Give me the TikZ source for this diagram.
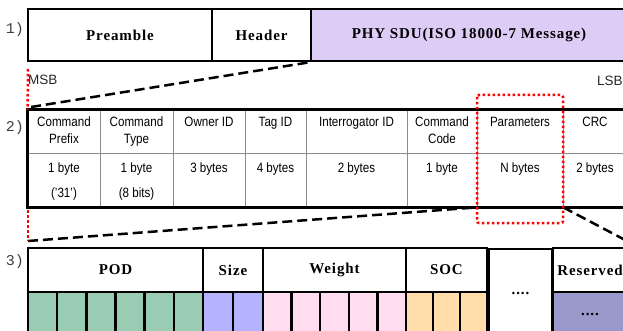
\documentclass[tikz,border=0pt]{standalone}
\usepackage{fontspec}
\setmainfont{Liberation Serif}
\newfontfamily\fldfont{Liberation Serif}[LetterSpace=6]
\newfontfamily\tblfont{Liberation Sans}[FakeStretch=0.86]
\newfontfamily\msbfont{Liberation Sans}
\newfontfamily\numfont{Liberation Mono}
\definecolor{phyfill}{HTML}{DCCCF6}
\definecolor{podfill}{HTML}{99CCB3}
\definecolor{sizefill}{HTML}{B3B3FF}
\definecolor{wgtfill}{HTML}{FFDDEE}
\definecolor{socfill}{HTML}{FFDEAC}
\definecolor{rsvfill}{HTML}{9999CC}

\begin{document}
\begin{tikzpicture}[x=1pt,y=-1pt,
    field/.style={draw=black, line width=2.5pt, inner sep=0pt, minimum height=52pt,
      font=\fldfont\bfseries\fontsize{15}{18}\selectfont},
    cell/.style={draw=black!45, line width=0.8pt, inner sep=0pt, align=center, text=black,
      minimum height=43pt, font=\tblfont\fontsize{13.5}{17}\selectfont},
    datacell/.style={cell, minimum height=54pt, font=\tblfont\fontsize{13.5}{25}\selectfont},
    bit/.style={draw=black, line width=2.5pt, inner sep=0pt, minimum height=44pt},
    zoomline/.style={black, line width=2.5pt, dash pattern=on 10pt off 5pt},
    redmark/.style={red, line width=2.5pt, dash pattern=on 2.5pt off 2.5pt},
    rowno/.style={text=black!75, font=\numfont\fontsize{15}{17}\selectfont},
    bitside/.style={text=black!85, anchor=west, inner sep=0pt, font=\msbfont\fontsize{13.5}{15}\selectfont}]
  \useasboundingbox (0,0) rectangle (623,331);
  \clip (0,0) rectangle (623,331);

  % 1) frame
  \node[rowno] (n1) at (15,30) {1)};
  \node[field, minimum width=184pt] (pre) at (120,35) {Preamble};
  \node[field, minimum width=99pt] (hdr) at (261.5,35) {Header};
  \node[field, minimum width=316pt, fill=phyfill] (phy) at (469,35) {PHY SDU(ISO 18000-7 Message)};

  \node[bitside] (msb) at (28,80) {MSB};
  \node[bitside] (lsb) at (597,81) {LSB};

  % 2) message
  \node[rowno] (n2) at (15,128) {2)};
  \node[cell, minimum width=72pt] (cpfxh) at (64,131.5) {\strut Command\\\strut Prefix};
  \node[cell, minimum width=73pt] (ctyph) at (136.5,131.5) {\strut Command\\\strut Type};
  \node[cell, minimum width=72pt] (ownh) at (209,131.5) {\strut Owner ID\\\strut};
  \node[cell, minimum width=61pt] (tagh) at (275.5,131.5) {\strut Tag ID\\\strut};
  \node[cell, minimum width=101pt] (irdh) at (356.5,131.5) {\strut Interrogator ID\\\strut};
  \node[cell, minimum width=70pt] (ccdh) at (442,131.5) {\strut Command\\\strut Code};
  \node[cell, minimum width=86pt] (prmh) at (520,131.5) {\strut Parameters\\\strut};
  \node[cell, minimum width=64pt] (crch) at (595,131.5) {\strut CRC\\\strut};
  \node[datacell, minimum width=72pt] (cpfxd) at (64,180) {\strut 1 byte\\\strut (\textquoteright 31\textquoteright)};
  \node[datacell, minimum width=73pt] (ctypd) at (136.5,180) {\strut 1 byte\\\strut (8 bits)};
  \node[datacell, minimum width=72pt] (ownd) at (209,180) {\strut 3 bytes\\\strut};
  \node[datacell, minimum width=61pt] (tagd) at (275.5,180) {\strut 4 bytes\\\strut};
  \node[datacell, minimum width=101pt] (irdd) at (356.5,180) {\strut 2 bytes\\\strut};
  \node[datacell, minimum width=70pt] (ccdd) at (442,180) {\strut 1 byte\\\strut};
  \node[datacell, minimum width=86pt] (prmd) at (520,180) {\strut N bytes\\\strut};
  \node[datacell, minimum width=64pt] (crcd) at (595,180) {\strut 2 bytes\\\strut};
  \draw[line width=2.5pt] (cpfxh.north west) rectangle (crcd.south east);
  \draw[line width=3.5pt] (cpfxd.south west) -- (crcd.south east);

  % 3) parameters
  \node[rowno] (n3) at (15,262) {3)};
  \node[field, minimum height=44pt, minimum width=175pt] (pod) at (115.5,270) {POD};
  \node[field, minimum height=44pt, minimum width=60pt] (size) at (233,270) {Size};
  \node[field, minimum height=44pt, minimum width=143pt] (wgt) at (334.5,270) {Weight};
  \node[field, minimum height=44pt, minimum width=81pt] (soc) at (446.5,270) {SOC};
  \node[field, minimum height=88pt, minimum width=63pt] (more) at (520.5,293) {....};
  \node[field, minimum height=44pt, minimum width=74pt] (rsv) at (590,270) {Reserved};
  \node[bit, minimum width=29.2pt, fill=podfill] (p1) at (42.6,314) {};
  \node[bit, minimum width=29.2pt, fill=podfill] (p2) at (71.75,314) {};
  \node[bit, minimum width=29.2pt, fill=podfill] (p3) at (100.9,314) {};
  \node[bit, minimum width=29.2pt, fill=podfill] (p4) at (130.1,314) {};
  \node[bit, minimum width=29.2pt, fill=podfill] (p5) at (159.25,314) {};
  \node[bit, minimum width=29.2pt, fill=podfill] (p6) at (188.4,314) {};
  \node[bit, minimum width=30pt, fill=sizefill] (s1) at (218,314) {};
  \node[bit, minimum width=30pt, fill=sizefill] (s2) at (248,314) {};
  \node[bit, minimum width=28.6pt, fill=wgtfill] (w1) at (277.3,314) {};
  \node[bit, minimum width=28.6pt, fill=wgtfill] (w2) at (305.9,314) {};
  \node[bit, minimum width=28.6pt, fill=wgtfill] (w3) at (334.5,314) {};
  \node[bit, minimum width=28.6pt, fill=wgtfill] (w4) at (363.1,314) {};
  \node[bit, minimum width=28.6pt, fill=wgtfill] (w5) at (391.7,314) {};
  \node[bit, minimum width=27pt, fill=socfill] (c1) at (419.5,314) {};
  \node[bit, minimum width=27pt, fill=socfill] (c2) at (446.5,314) {};
  \node[bit, minimum width=27pt, fill=socfill] (c3) at (473.5,314) {};
  \node[bit, minimum width=74pt, fill=rsvfill, font=\fldfont\bfseries\fontsize{15}{18}\selectfont] (rsvd) at (590,314) {....};

  % zoom marks
  \coordinate (bitl) at (28,241);
  \coordinate (bitr) at (627,241);
  \coordinate (msbl) at (31,107);
  \draw[zoomline] (msbl) -- (phy.south west);
  \draw[zoomline] (bitl) -- (prmd.south west);
  \draw[zoomline] (prmd.south east) -- (bitr);
  \draw[redmark] (28,69) -- (cpfxh.north west);
  \draw[redmark] (28,210) -- (bitl);
  \draw[redmark, rounded corners=2pt] (477,95) rectangle (563,223);
\end{tikzpicture}
\end{document}
